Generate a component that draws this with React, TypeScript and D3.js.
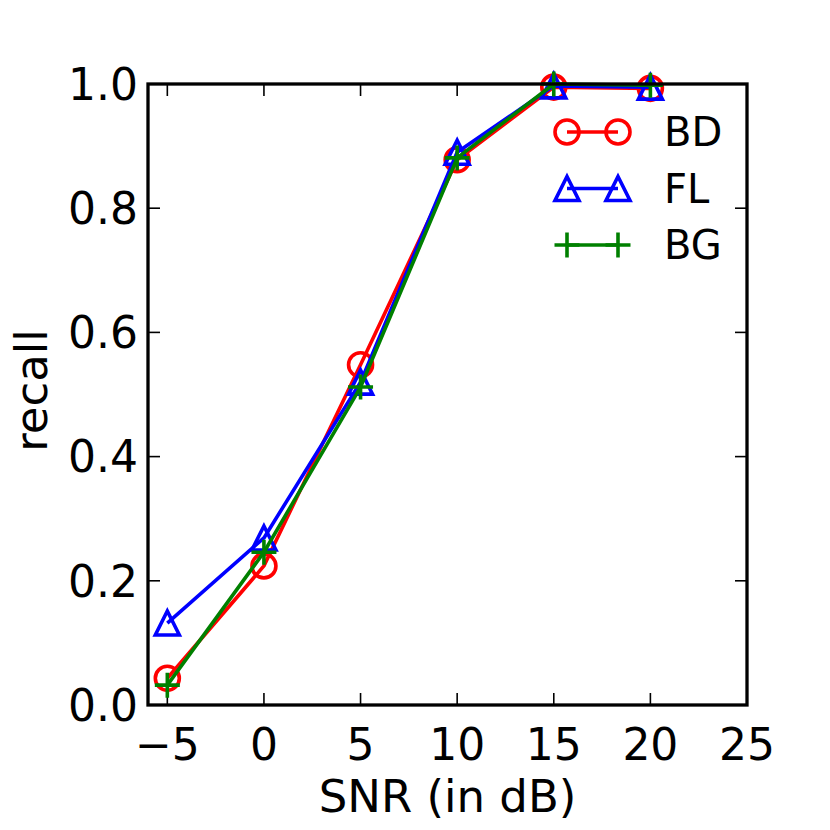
import React, { useEffect, useRef } from 'react';
import * as d3 from 'd3';

const snr = [-5, 0, 5, 10, 15, 20];
const bdRecall = [0.043, 0.224, 0.548, 0.878, 0.995, 0.993];
const flRecall = [0.132, 0.269, 0.52, 0.89, 0.997, 0.995];
const bgRecall = [0.032, 0.246, 0.512, 0.881, 1.0, 0.998];
const xTicks = [-5, 0, 5, 10, 15, 20, 25];
const yTicks = [0, 0.2, 0.4, 0.6, 0.8, 1.0];

interface Series {
    name: string;
    values: number[];
    color: string;
    marker: 'circle' | 'triangle' | 'plus';
}

const series: Series[] = [
    { name: 'BD', values: bdRecall, color: '#ff0000', marker: 'circle' },
    { name: 'FL', values: flRecall, color: '#0000ff', marker: 'triangle' },
    { name: 'BG', values: bgRecall, color: '#008000', marker: 'plus' },
];

const FONT = '"DejaVu Sans", sans-serif';
const LW = 3.6;

const App: React.FC = () => {
    const ref = useRef<SVGSVGElement | null>(null);

    useEffect(() => {
        if (!ref.current) return;
        const svg = d3.select(ref.current);
        svg.selectAll('*').remove();

        const margin = { top: 84, right: 83, bottom: 125, left: 148 };
        const width = 830;
        const height = 830;
        const innerWidth = width - margin.left - margin.right;
        const innerHeight = height - margin.top - margin.bottom;

        const x = d3.scaleLinear().domain([-6, 25]).range([0, innerWidth]);
        const y = d3.scaleLinear().domain([0, 1]).range([innerHeight, 0]);

        const g = svg.append('g').attr('transform', `translate(${margin.left},${margin.top})`);

        // ticks on all four sides, pointing inward
        const tickLen = 12;
        xTicks.forEach((t) => {
            g.append('line').attr('x1', x(t)).attr('x2', x(t)).attr('y1', innerHeight).attr('y2', innerHeight - tickLen)
                .attr('stroke', '#000').attr('stroke-width', 1.6);
            g.append('line').attr('x1', x(t)).attr('x2', x(t)).attr('y1', 0).attr('y2', tickLen)
                .attr('stroke', '#000').attr('stroke-width', 1.6);
            g.append('text').attr('x', x(t)).attr('y', innerHeight + 55)
                .attr('text-anchor', 'middle').attr('font-family', FONT).attr('font-size', 44)
                .text(t < 0 ? `\u2212${Math.abs(t)}` : `${t}`);
        });
        yTicks.forEach((t) => {
            g.append('line').attr('x1', 0).attr('x2', tickLen).attr('y1', y(t)).attr('y2', y(t))
                .attr('stroke', '#000').attr('stroke-width', 1.6);
            g.append('line').attr('x1', innerWidth).attr('x2', innerWidth - tickLen).attr('y1', y(t)).attr('y2', y(t))
                .attr('stroke', '#000').attr('stroke-width', 1.6);
            g.append('text').attr('x', -10).attr('y', y(t)).attr('dy', '0.36em')
                .attr('text-anchor', 'end').attr('font-family', FONT).attr('font-size', 44)
                .text(t.toFixed(1));
        });

        const drawMarker = (sel: d3.Selection<SVGGElement, unknown, null, undefined>, s: Series, cx: number, cy: number) => {
            if (s.marker === 'circle') {
                sel.append('circle').attr('cx', cx).attr('cy', cy).attr('r', 12)
                    .attr('fill', 'none').attr('stroke', s.color).attr('stroke-width', LW);
            } else if (s.marker === 'triangle') {
                const h = 12;
                sel.append('path').attr('d', `M${cx},${cy - h}L${cx + h},${cy + h}L${cx - h},${cy + h}Z`)
                    .attr('fill', 'none').attr('stroke', s.color).attr('stroke-width', LW)
                    .attr('stroke-linejoin', 'miter');
            } else {
                sel.append('path').attr('d', `M${cx - 12.5},${cy}H${cx + 12.5}M${cx},${cy - 12.5}V${cy + 12.5}`)
                    .attr('fill', 'none').attr('stroke', s.color).attr('stroke-width', LW);
            }
        };

        const line = d3.line<number>().x((_, i) => x(snr[i])).y((d) => y(d));
        series.forEach((s) => {
            const sg = g.append('g');
            sg.append('path').attr('d', line(s.values)).attr('fill', 'none')
                .attr('stroke', s.color).attr('stroke-width', LW).attr('stroke-linejoin', 'round');
            s.values.forEach((v, i) => drawMarker(sg, s, x(snr[i]), y(v)));
        });

        // legend
        const lx1 = 567 - margin.left;
        const lx2 = 618 - margin.left;
        series.forEach((s, i) => {
            const ly = 132 - margin.top + i * 56.5;
            const lg = g.append('g');
            lg.append('line').attr('x1', lx1).attr('x2', lx2).attr('y1', ly).attr('y2', ly)
                .attr('stroke', s.color).attr('stroke-width', LW);
            drawMarker(lg, s, lx1, ly);
            drawMarker(lg, s, lx2, ly);
            lg.append('text').attr('x', 664 - margin.left).attr('y', ly).attr('dy', '0.36em')
                .attr('font-family', FONT).attr('font-size', 40).text(s.name);
        });

        // frame
        g.append('rect').attr('x', 0).attr('y', 0).attr('width', innerWidth).attr('height', innerHeight)
            .attr('fill', 'none').attr('stroke', '#000').attr('stroke-width', 3.3);

        // axis labels
        g.append('text').attr('x', innerWidth / 2).attr('y', 812 - margin.top)
            .attr('text-anchor', 'middle').attr('font-family', FONT).attr('font-size', 45)
            .text('SNR (in dB)');
        g.append('text').attr('transform', `translate(${47 - margin.left},${innerHeight / 2 - 4}) rotate(-90)`)
            .attr('text-anchor', 'middle').attr('font-family', FONT).attr('font-size', 45)
            .text('recall');
    }, []);

    return (
        <svg ref={ref} width={830} height={830} style={{ display: 'block', position: 'absolute', left: 0, top: 0, background: '#fff' }} />
    );
};

export default App;
